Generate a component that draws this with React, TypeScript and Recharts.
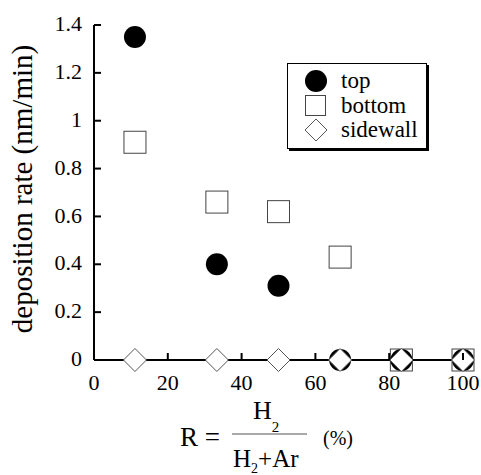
import { ScatterChart, Scatter, XAxis, YAxis } from "recharts";

// R = H2 / (H2 + Ar), in percent
const rValues = [11.1, 33.3, 50, 66.7, 83.3, 100];
const topRate = [1.35, 0.4, 0.31, 0, 0, 0];
const bottomRate = [0.91, 0.66, 0.62, 0.43, 0, 0];
const sidewallRate = [0, 0, 0, 0, 0, 0];

const xTicks = [0, 20, 40, 60, 80, 100];
const yTicks = [0, 0.2, 0.4, 0.6, 0.8, 1, 1.2, 1.4];

const FONT = '"Liberation Serif", "Times New Roman", serif';

const toPoints = (ys: number[]) => rValues.map((r, i) => ({ r, rate: ys[i] }));

const Circle = ({ cx, cy }: any) => <circle cx={cx} cy={cy} r={11} fill="#000" />;
const Square = ({ cx, cy }: any) => (
  <rect x={cx - 11} y={cy - 11} width={22} height={22} fill="#fff" stroke="#444" strokeWidth={1} />
);
const Diamond = ({ cx, cy }: any) => (
  <path d={`M${cx},${cy - 11.5}L${cx + 11.5},${cy}L${cx},${cy + 11.5}L${cx - 11.5},${cy}Z`} fill="#fff" stroke="#555" strokeWidth={1} />
);

const series = [
  { name: "top", data: toPoints(topRate), shape: Circle },
  { name: "bottom", data: toPoints(bottomRate), shape: Square },
  { name: "sidewall", data: toPoints(sidewallRate), shape: Diamond },
];

const LeftTick = ({ x, y, payload }: any) => (
  <g>
    <line x1={x + 12} x2={x + 19} y1={y} y2={y} stroke="#000" strokeWidth={2} />
    <text x={x} y={y} dy="0.28em" textAnchor="end" fontSize={22} fontFamily={FONT} fill="#000">
      {payload.value}
    </text>
  </g>
);
const BottomTick = ({ x, y, payload }: any) => (
  <g>
    <line x1={x} x2={x} y1={y - 14} y2={y - 21} stroke="#000" strokeWidth={2} />
    <text x={x} y={y} dy="0.71em" textAnchor="middle" fontSize={22} fontFamily={FONT} fill="#000">
      {payload.value}
    </text>
  </g>
);
const TopTick = ({ x, y }: any) => <line x1={x} x2={x} y1={y} y2={y + 7} stroke="#000" strokeWidth={2} />;
const RightTick = ({ x, y }: any) => <line x1={x} x2={x - 7} y1={y} y2={y} stroke="#000" strokeWidth={2} />;

const XLabel = () => (
  <g fontFamily={FONT} fill="#000">
    <text x={180} y={446} fontSize={27}>R =</text>
    <text x={253} y={419} fontSize={26}>
      H<tspan fontSize={15} dy={13}>2</tspan>
    </text>
    <line x1={232} x2={307} y1={434} y2={434} stroke="#555" strokeWidth={1} />
    <text x={233} y={467} fontSize={25}>
      H<tspan fontSize={14} dy={6}>2</tspan>
      <tspan dy={-6}>+Ar</tspan>
    </text>
    <text x={323} y={445} fontSize={20}>(%)</text>
  </g>
);

const YLabel = () => (
  <text x={32} y={189} transform="rotate(-90 32 189)" textAnchor="middle" fontSize={29} fontFamily={FONT} fill="#000">
    deposition rate (nm/min)
  </text>
);

const legendIcon = (name: string) => {
  if (name === "top") return <circle cx={12} cy={12} r={11} fill="#000" />;
  if (name === "bottom") return <rect x={1.5} y={1.5} width={20} height={20} fill="#fff" stroke="#444" strokeWidth={1} />;
  return <path d="M12,1L23,12L12,23L1,12Z" fill="#fff" stroke="#555" strokeWidth={1} />;
};

export default function App() {
  // bottom squares go under the circles, diamonds on top
  const drawOrder = [series[1], series[0], series[2]];
  return (
    <div style={{ position: "absolute", left: 0, top: 0, width: 481, height: 475, background: "#fff" }}>
      <ScatterChart width={481} height={475} margin={{ top: 25, right: 18, bottom: 75, left: 34 }}>
        <XAxis
          xAxisId="b"
          type="number"
          dataKey="r"
          domain={[0, 100]}
          ticks={xTicks}
          height={40}
          tickSize={0}
          tickMargin={14}
          tickLine={false}
          tick={<BottomTick />}
          axisLine={{ stroke: "#000", strokeWidth: 2 }}
          label={{ content: <XLabel /> }}
        />
        <XAxis
          xAxisId="t"
          orientation="top"
          type="number"
          dataKey="r"
          domain={[0, 100]}
          ticks={xTicks}
          height={0}
          tickSize={0}
          tickMargin={0}
          tickLine={false}
          tick={<TopTick />}
          axisLine={{ stroke: "#000", strokeWidth: 2 }}
        />
        <YAxis
          yAxisId="l"
          type="number"
          dataKey="rate"
          domain={[0, 1.4]}
          ticks={yTicks}
          width={60}
          tickSize={0}
          tickMargin={12}
          tickLine={false}
          tick={<LeftTick />}
          axisLine={{ stroke: "#000", strokeWidth: 2 }}
          label={{ content: <YLabel /> }}
        />
        <YAxis
          yAxisId="r"
          orientation="right"
          type="number"
          dataKey="rate"
          domain={[0, 1.4]}
          ticks={yTicks}
          width={0}
          tickSize={0}
          tickMargin={0}
          tickLine={false}
          tick={<RightTick />}
          axisLine={{ stroke: "#000", strokeWidth: 2 }}
        />
        {drawOrder.map((s) => (
          <Scatter
            key={s.name}
            name={s.name}
            data={s.data}
            xAxisId="b"
            yAxisId="l"
            shape={s.shape}
            isAnimationActive={false}
          />
        ))}
      </ScatterChart>
      <div
        style={{
          position: "absolute",
          left: 287,
          top: 63,
          width: 138,
          height: 84,
          border: "1.5px solid #000",
          boxShadow: "2px 2px 0 #000",
          background: "#fff",
          fontFamily: FONT,
          fontSize: 23,
          boxSizing: "content-box",
        }}
      >
        {series.map((s, i) => (
          <div key={s.name} style={{ position: "absolute", left: 16, top: 5 + i * 24.5, height: 24, display: "flex", alignItems: "center" }}>
            <svg width={24} height={24}>{legendIcon(s.name)}</svg>
            <span style={{ marginLeft: 13, lineHeight: "24px" }}>{s.name}</span>
          </div>
        ))}
      </div>
    </div>
  );
}
